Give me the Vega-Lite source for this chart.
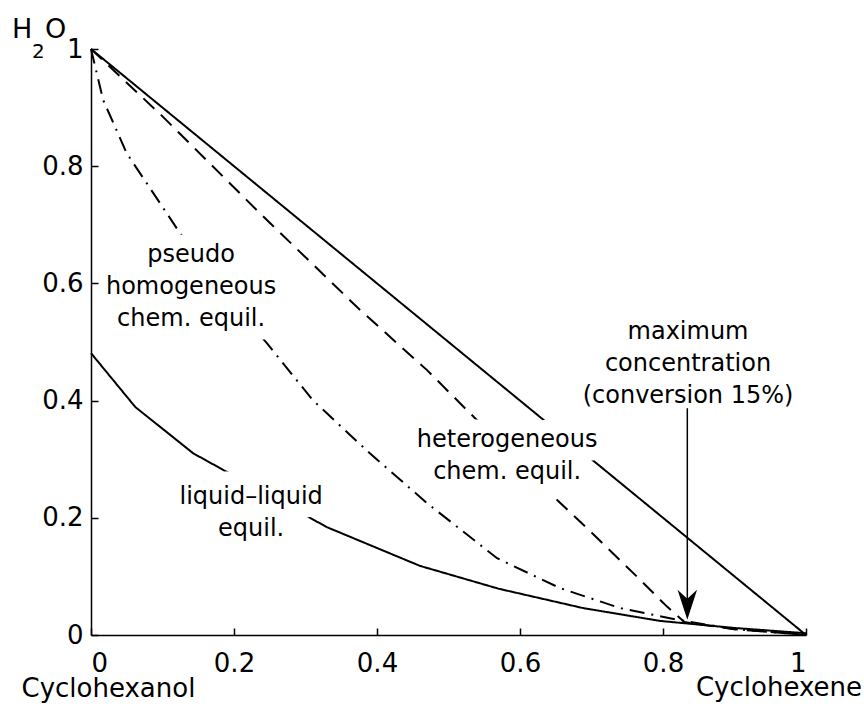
{
  "$schema": "https://vega.github.io/schema/vega-lite/v6.json",
  "width": 715,
  "height": 586,
  "autosize": "none",
  "padding": {"left": 91, "top": 49, "right": 58, "bottom": 69},
  "background": "white",
  "config": {
    "view": {"stroke": null},
    "font": "DejaVu Sans",
    "axis": {"grid": false, "domainColor": "black", "domainWidth": 1.5, "tickColor": "black", "tickWidth": 1.5, "tickSize": -7, "labelColor": "black", "titleColor": "black", "labelFont": "DejaVu Sans", "titleFont": "DejaVu Sans", "labelFontSize": 26, "titleFontSize": 26, "titleFontWeight": "normal"}
  },
  "datasets": {
    "curves": [
      {"series": "diag", "x": 0, "y": 1},
      {"series": "diag", "x": 1, "y": 0},
      {"series": "hetero", "x": 0, "y": 1},
      {"series": "hetero", "x": 0.1, "y": 0.885},
      {"series": "hetero", "x": 0.236, "y": 0.72},
      {"series": "hetero", "x": 0.376, "y": 0.555},
      {"series": "hetero", "x": 0.47, "y": 0.452},
      {"series": "hetero", "x": 0.64, "y": 0.244},
      {"series": "hetero", "x": 0.7, "y": 0.175},
      {"series": "hetero", "x": 0.764, "y": 0.099},
      {"series": "hetero", "x": 0.806, "y": 0.048},
      {"series": "hetero", "x": 0.83, "y": 0.022},
      {"series": "hetero", "x": 0.9, "y": 0.01},
      {"series": "hetero", "x": 1, "y": 0},
      {"series": "pseudo", "x": 0, "y": 1},
      {"series": "pseudo", "x": 0.017, "y": 0.913},
      {"series": "pseudo", "x": 0.05, "y": 0.822},
      {"series": "pseudo", "x": 0.12, "y": 0.694},
      {"series": "pseudo", "x": 0.18, "y": 0.59},
      {"series": "pseudo", "x": 0.246, "y": 0.498},
      {"series": "pseudo", "x": 0.31, "y": 0.401},
      {"series": "pseudo", "x": 0.39, "y": 0.31},
      {"series": "pseudo", "x": 0.47, "y": 0.225},
      {"series": "pseudo", "x": 0.568, "y": 0.131},
      {"series": "pseudo", "x": 0.656, "y": 0.08},
      {"series": "pseudo", "x": 0.74, "y": 0.046},
      {"series": "pseudo", "x": 0.82, "y": 0.026},
      {"series": "pseudo", "x": 0.9, "y": 0.01},
      {"series": "pseudo", "x": 1, "y": 0},
      {"series": "liquid", "x": 0, "y": 0.481},
      {"series": "liquid", "x": 0.062, "y": 0.389},
      {"series": "liquid", "x": 0.143, "y": 0.31},
      {"series": "liquid", "x": 0.33, "y": 0.184},
      {"series": "liquid", "x": 0.46, "y": 0.118},
      {"series": "liquid", "x": 0.57, "y": 0.079},
      {"series": "liquid", "x": 0.688, "y": 0.046},
      {"series": "liquid", "x": 0.796, "y": 0.024},
      {"series": "liquid", "x": 0.9, "y": 0.012},
      {"series": "liquid", "x": 1, "y": 0.003}
    ],
    "labels": [
      {"label": "pseudo\nhomogeneous\nchem. equil.", "x": 0.14, "y": 0.648},
      {"label": "heterogeneous\nchem. equil.", "x": 0.582, "y": 0.333},
      {"label": "liquid–liquid\nequil.", "x": 0.224, "y": 0.235},
      {"label": "maximum\nconcentration\n(conversion 15%)", "x": 0.835, "y": 0.517}
    ],
    "arrow": [
      {"x": 0.834, "y": 0.387, "y2": 0.06, "tip": 0.026}
    ],
    "endlabel": [
      {"label": "Cyclohexene", "x": 1, "y": 0}
    ],
    "ytitle": [
      {"x": 0, "y": 1}
    ]
  },
  "layer": [
    {
      "data": {"name": "curves"},
      "mark": {"type": "line", "color": "black", "strokeWidth": 2, "interpolate": "linear"},
      "encoding": {
        "x": {"field": "x", "type": "quantitative", "scale": {"domain": [0, 1], "nice": false, "zero": false},
              "axis": {"values": [0, 0.2, 0.4, 0.6, 0.8, 1], "format": "~g", "labelPadding": 22, "title": "Cyclohexanol", "titleAnchor": "start", "titleAlign": "left", "titleX": -70, "titleY": 61, "titleBaseline": "alphabetic", "zindex": 1}},
        "y": {"field": "y", "type": "quantitative", "scale": {"domain": [0, 1], "nice": false, "zero": false},
              "axis": {"values": [0, 0.2, 0.4, 0.6, 0.8, 1], "format": "~g", "labelPadding": 15, "title": null, "zindex": 1}},
        "detail": {"field": "series"},
        "strokeDash": {"field": "series", "type": "nominal", "legend": null,
                       "scale": {"domain": ["diag", "hetero", "pseudo", "liquid"], "range": [[1, 0], [15, 9], [15, 7, 2, 7], [1, 0]]}}
      }
    },
    {
      "data": {"name": "labels"},
      "mark": {"type": "text", "lineBreak": "\n", "fontSize": 24, "lineHeight": 32, "align": "center", "baseline": "middle", "fill": "white", "stroke": "white", "strokeWidth": 27, "strokeJoin": "round"},
      "encoding": {
        "x": {"field": "x", "type": "quantitative"},
        "y": {"field": "y", "type": "quantitative"},
        "text": {"field": "label"}
      }
    },
    {
      "data": {"name": "labels"},
      "mark": {"type": "text", "lineBreak": "\n", "fontSize": 24, "lineHeight": 32, "align": "center", "baseline": "middle", "fill": "black"},
      "encoding": {
        "x": {"field": "x", "type": "quantitative"},
        "y": {"field": "y", "type": "quantitative"},
        "text": {"field": "label"}
      }
    },
    {
      "data": {"name": "arrow"},
      "mark": {"type": "rule", "color": "black", "strokeWidth": 1.5},
      "encoding": {
        "x": {"field": "x", "type": "quantitative"},
        "y": {"field": "y", "type": "quantitative"},
        "y2": {"field": "y2"}
      }
    },
    {
      "data": {"name": "arrow"},
      "mark": {"type": "point", "filled": true, "color": "black", "opacity": 1, "size": 900, "shape": "M0,0 L-0.65,-2 L0,-1.4 L0.65,-2 Z"},
      "encoding": {
        "x": {"field": "x", "type": "quantitative"},
        "y": {"field": "tip", "type": "quantitative"}
      }
    },
    {
      "data": {"name": "endlabel"},
      "mark": {"type": "text", "fontSize": 26, "align": "right", "baseline": "alphabetic", "dx": 56, "dy": 61, "fill": "black"},
      "encoding": {
        "x": {"field": "x", "type": "quantitative"},
        "y": {"field": "y", "type": "quantitative"},
        "text": {"field": "label"}
      }
    },
    {
      "data": {"name": "ytitle"},
      "mark": {"type": "text", "fontSize": 27, "align": "left", "baseline": "alphabetic", "dx": -79, "dy": -11, "fill": "black", "text": "H"},
      "encoding": {
        "x": {"field": "x", "type": "quantitative"},
        "y": {"field": "y", "type": "quantitative"}
      }
    },
    {
      "data": {"name": "ytitle"},
      "mark": {"type": "text", "fontSize": 20, "align": "left", "baseline": "alphabetic", "dx": -59, "dy": 9, "fill": "black", "text": "2"},
      "encoding": {
        "x": {"field": "x", "type": "quantitative"},
        "y": {"field": "y", "type": "quantitative"}
      }
    },
    {
      "data": {"name": "ytitle"},
      "mark": {"type": "text", "fontSize": 27, "align": "left", "baseline": "alphabetic", "dx": -46, "dy": -11, "fill": "black", "text": "O"},
      "encoding": {
        "x": {"field": "x", "type": "quantitative"},
        "y": {"field": "y", "type": "quantitative"}
      }
    }
  ]
}
